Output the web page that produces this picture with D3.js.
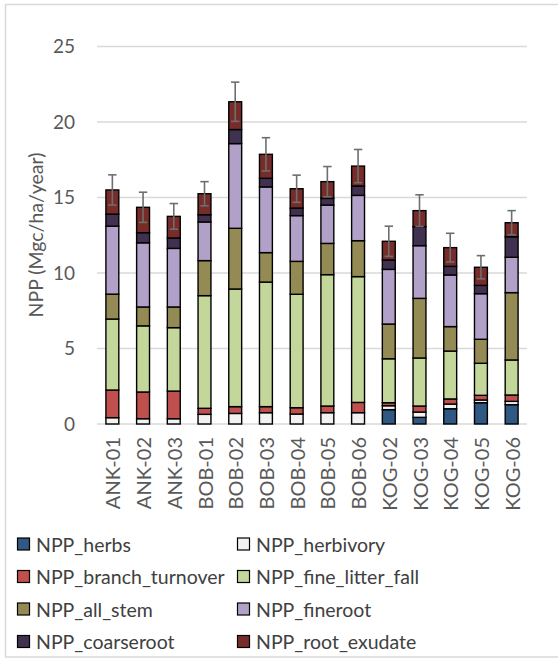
<!DOCTYPE html>
<html>
<head>
<meta charset="utf-8">
<script src="https://cdn.jsdelivr.net/npm/d3@7"></script>
<style>
  html, body { margin: 0; padding: 0; background: #fff; }
  svg { display: block; font-family: Lato, "Open Sans", sans-serif; }
</style>
</head>
<body>
<svg id="chart" width="558" height="659"></svg>
<script>
// Plot sites
const sites = ["ANK-01","ANK-02","ANK-03","BOB-01","BOB-02","BOB-03","BOB-04","BOB-05","BOB-06",
               "KOG-02","KOG-03","KOG-04","KOG-05","KOG-06"];

// NPP components (Mgc/ha/year), one value per site
const nppHerbs          = [0, 0, 0, 0, 0, 0, 0, 0, 0, 0.95, 0.44, 1.01, 1.41, 1.28];
const nppHerbivory      = [0.42, 0.35, 0.35, 0.64, 0.70, 0.75, 0.66, 0.75, 0.75, 0.26, 0.35, 0.31, 0.18, 0.22];
const nppBranchTurnover = [1.83, 1.77, 1.83, 0.40, 0.45, 0.40, 0.42, 0.44, 0.68, 0.20, 0.40, 0.34, 0.31, 0.42];
const nppFineLitterFall = [4.70, 4.38, 4.20, 7.46, 7.79, 8.25, 7.51, 8.70, 8.33, 2.91, 3.18, 3.17, 2.12, 2.32];
const nppAllStem        = [1.65, 1.25, 1.37, 2.32, 4.02, 1.95, 2.18, 2.07, 2.38, 2.30, 3.95, 1.62, 1.59, 4.46];
const nppFineroot       = [4.50, 4.25, 3.88, 2.56, 5.61, 4.35, 3.03, 2.54, 3.00, 3.62, 3.49, 3.42, 3.02, 2.34];
const nppCoarseroot     = [0.80, 0.67, 0.69, 0.48, 0.93, 0.57, 0.50, 0.44, 0.62, 0.62, 1.26, 0.57, 0.55, 1.36];
const nppRootExudate    = [1.60, 1.68, 1.43, 1.39, 1.84, 1.59, 1.28, 1.11, 1.32, 1.24, 1.06, 1.24, 1.20, 0.93];

// Error on total NPP (+/-)
const totalError = [1.0, 1.0, 0.85, 0.8, 1.3, 1.1, 0.9, 1.0, 1.1, 1.0, 1.05, 0.95, 0.77, 0.8];

const seriesNames = ["NPP_herbs","NPP_herbivory","NPP_branch_turnover","NPP_fine_litter_fall",
                     "NPP_all_stem","NPP_fineroot","NPP_coarseroot","NPP_root_exudate"];
const seriesValues = [nppHerbs, nppHerbivory, nppBranchTurnover, nppFineLitterFall,
                      nppAllStem, nppFineroot, nppCoarseroot, nppRootExudate];
const seriesColors = ["#2f5883","#f2f2f2","#c0504d","#c4d79b","#948a54","#b1a0c7","#403151","#772c2a"];

const yTicks = [0, 5, 10, 15, 20, 25];

// Build rows for the stack layout
const rows = sites.map((s, i) => {
  const r = { site: s };
  seriesNames.forEach((n, k) => { r[n] = seriesValues[k][i]; });
  return r;
});

const svg = d3.select("#chart");
const W = 558, H = 659;
const margin = { left: 97, right: 31 };

// outer frame
svg.append("rect")
  .attr("x", 5.5).attr("y", 4.5)
  .attr("width", 560).attr("height", 652.5)
  .attr("fill", "none").attr("stroke", "#d9d9d9").attr("stroke-width", 1.5);

const x = d3.scaleBand().domain(sites)
  .range([margin.left, W - margin.right])
  .paddingInner(0.58).paddingOuter(0.29);

const y = d3.scaleLinear().domain([0, 25]).range([424, 46.5]);

// gridlines
svg.append("g")
  .selectAll("line").data(yTicks).join("line")
  .attr("x1", margin.left).attr("x2", W - margin.right)
  .attr("y1", d => y(d)).attr("y2", d => y(d))
  .attr("stroke", "#d9d9d9").attr("stroke-width", 1.5);

// y axis labels
const yAxis = d3.axisLeft(y).tickValues(yTicks).tickSize(0).tickPadding(22);
const gy = svg.append("g").attr("transform", `translate(${margin.left},0)`).call(yAxis);
gy.select(".domain").remove();
gy.selectAll("text").attr("fill", "#595959").style("font-size", "19px")
  .style("font-family", "Lato, 'Open Sans', sans-serif");

// y title
svg.append("text")
  .attr("transform", `translate(43,235) rotate(-90)`)
  .attr("text-anchor", "middle")
  .attr("fill", "#595959")
  .style("font-size", "19.5px")
  .text("NPP (Mgc/ha/year)");

// stacked bars
const stack = d3.stack().keys(seriesNames);
const stacked = stack(rows);

svg.append("g")
  .selectAll("g").data(stacked).join("g")
  .attr("fill", (d, i) => seriesColors[i])
  .selectAll("rect").data(d => d).join("rect")
  .attr("x", d => x(d.data.site))
  .attr("width", x.bandwidth())
  .attr("y", d => y(d[1]))
  .attr("height", d => Math.max(0, y(d[0]) - y(d[1])))
  .attr("stroke", "#000")
  .attr("stroke-width", d => (d[1] - d[0]) > 0 ? 1.4 : 0);

// error bars on total
const totals = rows.map(r => seriesNames.reduce((a, n) => a + r[n], 0));
const eb = svg.append("g").attr("stroke", "#6e6e6e").attr("stroke-width", 1.6);
sites.forEach((s, i) => {
  const cx = x(s) + x.bandwidth() / 2;
  const hi = totals[i] + totalError[i], lo = totals[i] - totalError[i];
  eb.append("line").attr("x1", cx).attr("x2", cx).attr("y1", y(hi)).attr("y2", y(lo));
  eb.append("line").attr("x1", cx - 4.2).attr("x2", cx + 4.2).attr("y1", y(hi)).attr("y2", y(hi));
  eb.append("line").attr("x1", cx - 4.2).attr("x2", cx + 4.2).attr("y1", y(lo)).attr("y2", y(lo));
});

// x axis labels (rotated)
const xAxis = d3.axisBottom(x).tickSize(0).tickPadding(0);
const gx = svg.append("g").attr("transform", `translate(0,424)`).call(xAxis);
gx.select(".domain").remove();
gx.selectAll("text")
  .attr("fill", "#595959")
  .style("font-size", "20px")
  .style("font-family", "Lato, 'Open Sans', sans-serif")
  .attr("text-anchor", "end")
  .attr("dy", null)
  .attr("transform", "translate(0,13) rotate(-90)")
  .attr("x", 0).attr("y", 0)
  .attr("dominant-baseline", "central");

// legend
const legendCols = [17, 237];
const legendRows = [544, 576.5, 609, 641.5];
const lg = svg.append("g");
seriesNames.forEach((n, k) => {
  const lx = legendCols[k % 2], ly = legendRows[Math.floor(k / 2)];
  lg.append("rect").attr("x", lx + 0.5).attr("y", ly - 6)
    .attr("width", 12).attr("height", 12)
    .attr("fill", seriesColors[k]).attr("stroke", "#000").attr("stroke-width", 1.2);
  lg.append("text").attr("x", lx + 19).attr("y", ly)
    .attr("dominant-baseline", "central")
    .attr("fill", "#404040")
    .style("font-size", "19.5px")
    .text(n);
});

// stray glyph at the lower-left edge
svg.append("text").attr("x", -6).attr("y", 649)
  .attr("fill", "#000").style("font-size", "20px").text(")");
</script>
</body>
</html>
